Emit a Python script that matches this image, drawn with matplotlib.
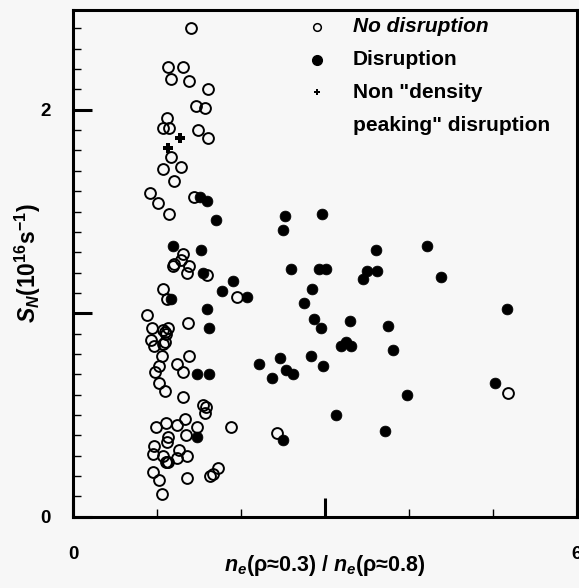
import matplotlib
matplotlib.use('Agg')
import matplotlib.pyplot as plt
from matplotlib import font_manager
from matplotlib.ticker import MultipleLocator, FixedLocator

# pick a condensed bold font when one is installed
names = set(f.name for f in font_manager.fontManager.ttflist)
fam = 'Liberation Sans Narrow' if 'Liberation Sans Narrow' in names else 'Liberation Sans'

plt.rcParams['font.family'] = [fam, 'DejaVu Sans']
plt.rcParams['font.weight'] = 'bold'
plt.rcParams['mathtext.fontset'] = 'custom'
plt.rcParams['mathtext.rm'] = fam + ':bold'
plt.rcParams['mathtext.it'] = fam + ':italic:bold'
plt.rcParams['mathtext.bf'] = fam + ':bold'

# no disruption (open circles)
nodis_x = [1.40, 1.13, 1.31, 1.17, 1.38, 1.61, 1.46, 1.57, 1.12, 1.07, 1.14, 1.49, 1.61,
           1.17, 1.29, 1.07, 1.20, 0.92, 1.01, 1.14, 1.44, 1.31, 1.29, 1.20, 1.19, 1.38,
           1.36, 1.60, 1.07, 1.12, 1.95, 0.88, 0.94, 1.07, 1.10, 1.13, 1.11, 1.37, 0.93,
           0.96, 1.07, 1.10, 1.06, 1.38, 1.02, 0.98, 1.24, 1.31, 1.02, 1.10, 1.31, 1.55,
           1.58, 1.57, 0.99, 1.11, 1.24, 1.33, 1.35, 1.48, 1.13, 1.12, 0.96, 1.26, 0.95,
           1.07, 1.36, 1.24, 1.12, 1.13, 1.11, 0.95, 1.02, 1.36, 1.63, 1.67, 1.73, 1.06,
           1.88, 2.43, 5.18]
nodis_y = [2.40, 2.21, 2.21, 2.15, 2.14, 2.10, 2.02, 2.01, 1.96, 1.91, 1.91, 1.90, 1.86,
           1.77, 1.72, 1.71, 1.65, 1.59, 1.54, 1.49, 1.57, 1.29, 1.26, 1.24, 1.23, 1.23,
           1.20, 1.19, 1.12, 1.07, 1.08, 0.99, 0.93, 0.92, 0.91, 0.93, 0.90, 0.95, 0.87,
           0.84, 0.85, 0.86, 0.79, 0.79, 0.74, 0.71, 0.75, 0.71, 0.66, 0.62, 0.59, 0.55,
           0.54, 0.51, 0.44, 0.46, 0.45, 0.48, 0.40, 0.44, 0.39, 0.37, 0.35, 0.33, 0.31,
           0.30, 0.30, 0.29, 0.27, 0.27, 0.27, 0.22, 0.18, 0.19, 0.20, 0.21, 0.24, 0.11,
           0.44, 0.41, 0.61]

# disruption (filled circles)
dis_x = [1.51, 1.60, 1.70, 1.19, 1.52, 1.55, 1.77, 2.07, 1.17, 1.60, 1.62, 1.48, 1.62,
         1.48, 2.52, 2.50, 2.96, 1.90, 2.60, 2.93, 3.01, 2.85, 2.75, 2.87, 2.95, 2.83,
         2.98, 2.21, 2.46, 2.54, 2.62, 2.37, 3.13, 2.50, 3.61, 4.21, 3.45, 3.50, 3.62,
         4.38, 3.30, 3.75, 3.19, 3.25, 3.31, 3.81, 3.98, 3.71, 5.17, 5.02]
dis_y = [1.57, 1.55, 1.46, 1.33, 1.31, 1.20, 1.11, 1.08, 1.07, 1.02, 0.93, 0.70, 0.70,
         0.39, 1.48, 1.41, 1.49, 1.16, 1.22, 1.22, 1.22, 1.12, 1.05, 0.97, 0.93, 0.79,
         0.74, 0.75, 0.78, 0.72, 0.70, 0.68, 0.50, 0.38, 1.31, 1.33, 1.17, 1.21, 1.21,
         1.18, 0.96, 0.94, 0.84, 0.86, 0.84, 0.82, 0.60, 0.42, 1.02, 0.66]

# non "density peaking" disruption (crosses)
nonpk_x = [1.27, 1.13]
nonpk_y = [1.86, 1.81]

bg = '#f7f7f7'
fig = plt.figure(figsize=(5.79, 5.88), dpi=100, facecolor=bg)
ax = fig.add_axes([0.126, 0.121, 0.8705, 0.862], facecolor=bg)

ax.plot(nodis_x, nodis_y, 'o', ms=7.8, mfc='none', mec='black', mew=1.4, ls='none')
ax.plot(dis_x, dis_y, 'o', ms=7.8, mfc='black', mec='black', mew=0.5, ls='none')
ax.plot(nonpk_x, nonpk_y, 'P', ms=6.5, color='black', mew=0)

ax.set_xlim(0, 6)
ax.set_ylim(0, 2.49)

for s in ax.spines.values():
    s.set_linewidth(2.2)

ax.xaxis.set_major_locator(FixedLocator([0, 3, 6]))
ax.xaxis.set_minor_locator(MultipleLocator(1))
ax.set_xticklabels(['0', '', '6'])
ax.yaxis.set_major_locator(FixedLocator([0, 1, 2]))
ax.yaxis.set_minor_locator(MultipleLocator(0.1))
ax.set_yticklabels(['0', '', '2'])

ax.tick_params(which='major', direction='in', length=14, width=2.2, labelsize=13.5)
ax.tick_params(which='minor', direction='in', length=6, width=1)
ax.tick_params(axis='x', which='major', pad=21)
ax.tick_params(axis='y', which='major', pad=16)

ax.set_xlabel(r'$n_e$(ρ≈0.3) / $n_e$(ρ≈0.8)', fontsize=15.5, fontweight='bold', labelpad=-7)
ax.set_ylabel(r'$S_N$(10$^{16}$s$^{-1}$)', fontsize=16.5, fontweight='bold', labelpad=-2)

# legend drawn as text with markers
lx, tx = 0.485, 0.555
ax.plot([lx], [0.967], 'o', ms=5.5, mfc='none', mec='black', mew=1.1, transform=ax.transAxes, clip_on=False)
ax.plot([lx], [0.902], 'o', ms=7, mfc='black', mec='black', transform=ax.transAxes, clip_on=False)
ax.plot([lx], [0.838], 'P', ms=5, color='black', mew=0, transform=ax.transAxes, clip_on=False)
ax.text(tx, 0.967, 'No disruption', transform=ax.transAxes, fontsize=15, style='italic',
        fontweight='bold', va='center')
ax.text(tx, 0.902, 'Disruption', transform=ax.transAxes, fontsize=15, fontweight='bold', va='center')
ax.text(tx, 0.838, 'Non "density', transform=ax.transAxes, fontsize=15, fontweight='bold', va='center')
ax.text(tx, 0.773, 'peaking" disruption', transform=ax.transAxes, fontsize=15, fontweight='bold', va='center')

fig.savefig('out.png', dpi=100, facecolor=bg)
